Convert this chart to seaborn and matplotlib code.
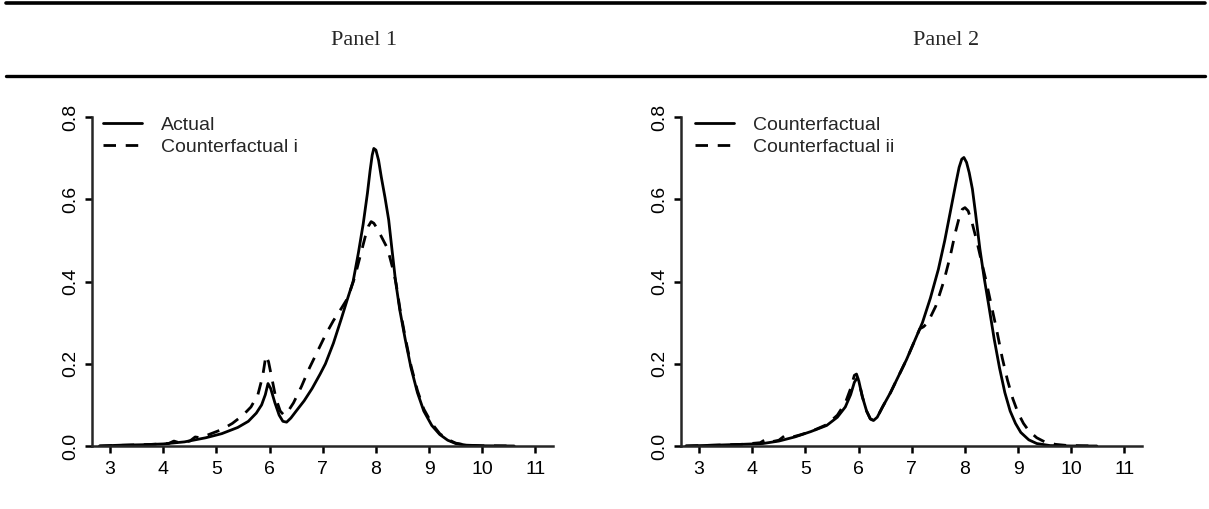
import matplotlib
matplotlib.use("Agg")
import matplotlib.pyplot as plt
import pandas as pd
import seaborn as sns
from matplotlib.lines import Line2D

# ---------------- data ----------------
panel_titles = ["Panel 1", "Panel 2"]
x_ticks = [3, 4, 5, 6, 7, 8, 9, 10, 11]
y_ticks = [0.0, 0.2, 0.4, 0.6, 0.8]
y_tick_labels = ["0.0", "0.2", "0.4", "0.6", "0.8"]

p1_labels = ["Actual", "Counterfactual i"]
p2_labels = ["Counterfactual", "Counterfactual ii"]

p1_actual_x = [2.8, 3.2, 3.6, 4.0, 4.4, 4.8, 5.1, 5.4, 5.6, 5.75, 5.85, 5.92, 5.97, 6.02, 6.1,
               6.18, 6.25, 6.32, 6.4, 6.5, 6.65, 6.8, 6.95, 7.05, 7.2, 7.35, 7.47, 7.57, 7.67,
               7.76, 7.84, 7.89, 7.93, 7.96, 8.0, 8.05, 8.1, 8.17, 8.24, 8.3, 8.37, 8.45, 8.55,
               8.66, 8.78, 8.9, 9.05, 9.2, 9.35, 9.5, 9.7, 10.0, 10.6]
p1_actual_y = [0.0, 0.002, 0.003, 0.005, 0.01, 0.02, 0.03, 0.045, 0.06, 0.08, 0.10, 0.125, 0.152,
               0.14, 0.105, 0.075, 0.06, 0.058, 0.068, 0.085, 0.11, 0.14, 0.175, 0.2, 0.25, 0.31,
               0.36, 0.40, 0.47, 0.54, 0.615, 0.67, 0.708, 0.724, 0.72, 0.695, 0.655, 0.605, 0.55,
               0.48, 0.40, 0.33, 0.26, 0.19, 0.13, 0.085, 0.05, 0.028, 0.014, 0.006, 0.002,
               0.0005, 0.0]

p1_cf_x = [2.8, 3.3, 3.8, 4.1, 4.2, 4.3, 4.5, 4.6, 4.7, 4.9, 5.1, 5.3, 5.5, 5.65, 5.78, 5.87,
           5.93, 5.98, 6.05, 6.12, 6.2, 6.27, 6.35, 6.45, 6.6, 6.75, 6.9, 7.05, 7.2, 7.35, 7.47,
           7.6, 7.72, 7.8, 7.86, 7.91, 7.96, 8.02, 8.08, 8.14, 8.2, 8.26, 8.32, 8.38, 8.45, 8.55,
           8.66, 8.78, 8.9, 9.05, 9.2, 9.35, 9.5, 9.7, 10.0, 10.6]
p1_cf_y = [0.0, 0.002, 0.004, 0.006, 0.012, 0.008, 0.012, 0.022, 0.02, 0.03, 0.04, 0.055, 0.075,
           0.095, 0.125, 0.17, 0.22, 0.205, 0.16, 0.115, 0.085, 0.075, 0.085, 0.105, 0.145, 0.19,
           0.23, 0.27, 0.305, 0.335, 0.36, 0.41, 0.47, 0.51, 0.535, 0.546, 0.542, 0.53, 0.515,
           0.5, 0.485, 0.46, 0.43, 0.395, 0.335, 0.265, 0.195, 0.135, 0.09, 0.055, 0.03, 0.016,
           0.007, 0.002, 0.0005, 0.0]

p2_cf_x = [2.75, 3.3, 3.8, 4.2, 4.5, 4.8, 5.1, 5.4, 5.6, 5.75, 5.85, 5.92, 5.97, 6.0, 6.07, 6.15,
           6.22, 6.28, 6.35, 6.45, 6.6, 6.75, 6.9, 7.05, 7.2, 7.35, 7.5, 7.62, 7.74, 7.83, 7.89,
           7.94, 7.98, 8.03, 8.08, 8.14, 8.2, 8.28, 8.36, 8.45, 8.55, 8.65, 8.75, 8.85, 8.95,
           9.05, 9.2, 9.35, 9.6, 10.0, 10.48]
p2_cf_y = [0.0, 0.002, 0.004, 0.006, 0.012, 0.022, 0.035, 0.05, 0.07, 0.095, 0.125, 0.155, 0.165,
           0.16, 0.12, 0.085, 0.066, 0.062, 0.07, 0.095, 0.13, 0.17, 0.21, 0.255, 0.30, 0.36,
           0.43, 0.50, 0.58, 0.64, 0.678, 0.698, 0.702, 0.69, 0.665, 0.625, 0.565, 0.48, 0.41,
           0.34, 0.26, 0.19, 0.13, 0.085, 0.055, 0.033, 0.015, 0.006, 0.001, 0.0, 0.0]

p2_cf2_x = [2.75, 3.3, 3.8, 4.15, 4.25, 4.35, 4.5, 4.6, 4.7, 4.9, 5.1, 5.4, 5.6, 5.75, 5.85, 5.92,
            5.96, 6.0, 6.07, 6.15, 6.22, 6.28, 6.35, 6.45, 6.6, 6.75, 6.9, 7.05, 7.15, 7.22, 7.3,
            7.45, 7.6, 7.72, 7.82, 7.89, 7.95, 8.0, 8.06, 8.13, 8.22, 8.3, 8.4, 8.5, 8.6, 8.7,
            8.8, 8.9, 9.0, 9.1, 9.2, 9.35, 9.5, 9.7, 9.9, 10.2, 10.48]
p2_cf2_y = [0.0, 0.002, 0.004, 0.008, 0.016, 0.01, 0.014, 0.024, 0.02, 0.027, 0.035, 0.052, 0.075,
            0.105, 0.14, 0.172, 0.175, 0.16, 0.12, 0.085, 0.066, 0.062, 0.07, 0.095, 0.13, 0.17,
            0.21, 0.255, 0.285, 0.29, 0.30, 0.34, 0.40, 0.46, 0.52, 0.555, 0.576, 0.58, 0.572,
            0.545, 0.5, 0.455, 0.40, 0.34, 0.28, 0.215, 0.16, 0.115, 0.08, 0.055, 0.037, 0.02,
            0.01, 0.004, 0.0015, 0.0005, 0.0]

# ---------------- styling ----------------
sns.set_style("ticks")
plt.rcParams["font.family"] = ["Liberation Sans", "DejaVu Sans"]

LW = 2.0
DASH = (4.5, 3.5)

fig = plt.figure(figsize=(12.09, 5.09), dpi=100)

# horizontal rules and panel titles
for yy, lw in [(0.994, 2.6), (0.851, 2.4)]:
    fig.add_artist(Line2D([0.005, 0.997], [yy, yy], transform=fig.transFigure,
                          color="black", lw=lw))
for xc, t in zip([0.301, 0.7825], panel_titles):
    fig.text(xc, 0.921, t, ha="center", va="center", fontsize=16,
             family=["Liberation Serif", "DejaVu Serif"])

panels = [
    (p1_labels, (p1_actual_x, p1_actual_y), (p1_cf_x, p1_cf_y), [0.0761, 0.1238, 0.3813, 0.654], 0.024),
    (p2_labels, (p2_cf_x, p2_cf_y), (p2_cf2_x, p2_cf2_y), [0.5633, 0.1238, 0.3813, 0.654], 0.030),
]

for labels, (sx, sy), (dx, dy), rect, legx in panels:
    ax = fig.add_axes(rect)
    df = pd.concat([
        pd.DataFrame({"x": sx, "density": sy, "series": labels[0]}),
        pd.DataFrame({"x": dx, "density": dy, "series": labels[1]}),
    ], ignore_index=True)
    sns.lineplot(data=df, x="x", y="density", style="series", style_order=labels,
                 dashes={labels[0]: "", labels[1]: DASH}, color="black", linewidth=LW,
                 estimator=None, sort=False, legend=False, ax=ax)
    for ln in ax.get_lines():
        ln.set_solid_joinstyle("round")
        ln.set_dash_joinstyle("round")
    ax.set_xlim(2.66, 11.33)
    ax.set_ylim(0, 0.81)
    ax.set_xticks(x_ticks)
    ax.set_xticklabels([str(v) for v in x_ticks])
    ax.set_yticks(y_ticks)
    ax.set_yticklabels(y_tick_labels, rotation=90, va="center")
    ax.set_xlabel("")
    ax.set_ylabel("")
    for s in ["top", "right"]:
        ax.spines[s].set_visible(False)
    ax.spines["left"].set_bounds(0, 0.8)
    for s in ["left", "bottom"]:
        ax.spines[s].set_linewidth(1.8)
    ax.tick_params(axis="both", direction="out", length=5, width=1.8, labelsize=14,
                   colors="black")
    ax.tick_params(axis="x", pad=6)
    ax.tick_params(axis="y", pad=4)
    ax.set_facecolor("white")

    handles = [Line2D([], [], color="black", lw=LW),
               Line2D([], [], color="black", lw=LW, dashes=DASH)]
    ax.legend(handles, labels, loc="upper left", bbox_to_anchor=(legx, 0.99),
              frameon=False, fontsize=14, handlelength=2.0, handletextpad=1.0,
              labelspacing=0.2, borderpad=0, borderaxespad=0)

fig.savefig("out.png", dpi=100, facecolor="white")
